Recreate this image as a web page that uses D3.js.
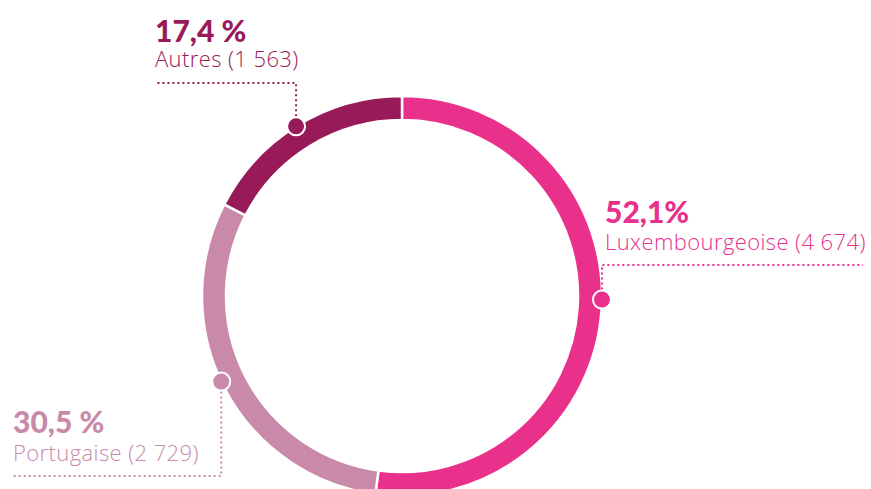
<!DOCTYPE html>
<html>
<head>
<meta charset="utf-8">
<script src="https://cdn.jsdelivr.net/npm/d3@7"></script>
<style>
  body { margin: 0; background: #fff; }
  svg { display: block; font-family: Lato, "Open Sans", sans-serif; }
</style>
</head>
<body>
<div id="chart"></div>
<script>
// data
const categories = ['Luxembourgeoise', 'Portugaise', 'Autres'];
const counts = [4674, 2729, 1563];
const percentLabels = ['52,1%', '30,5 %', '17,4 %'];
const countLabels = ['4 674', '2 729', '1 563'];
const colors = ['#e9308b', '#c98aa9', '#981a58'];

const width = 871, height = 489;
const cx = 402, cy = 296;
const outerR = 200, innerR = 176;

// label layout: dot shift along the ring (deg), elbow height of leader, line end x, text position
const labelLayout = [
  { shift: -2.8, lineY: 265, lineX: 863, tx: 605, pctY: 223, nameY: 250 },
  { shift: 2.2, lineY: 476, lineX: 13, tx: 13, pctY: 433, nameY: 461 },
  { shift: -0.6, lineY: 83, lineX: 155, tx: 155, pctY: 42, nameY: 67 }
];

const data = categories.map((c, i) => ({ category: c, count: counts[i], i }));

const svg = d3.select('#chart').append('svg')
  .attr('width', width)
  .attr('height', height);

const g = svg.append('g')
  .attr('transform', `translate(${cx}, ${cy})`);

// pie in given order, clockwise from top
const pie = d3.pie().sort(null).value(d => d.count);
const arcs = pie(data);

const arc = d3.arc().innerRadius(innerR).outerRadius(outerR);

g.selectAll('path')
  .data(arcs)
  .join('path')
  .attr('d', arc)
  .attr('fill', d => colors[d.data.i])
  .attr('stroke', '#fff')
  .attr('stroke-width', 2.5);

// dot position on outer edge, near the middle of each slice
const dotPos = d => {
  const a = (d.startAngle + d.endAngle) / 2 + labelLayout[d.data.i].shift * Math.PI / 180;
  return [cx + outerR * Math.sin(a), cy - outerR * Math.cos(a)];
};

// leader lines
svg.selectAll('.leader')
  .data(arcs)
  .join('polyline')
  .attr('class', 'leader')
  .attr('points', d => {
    const [x, y] = dotPos(d);
    const L = labelLayout[d.data.i];
    return `${x},${y} ${x},${L.lineY} ${L.lineX},${L.lineY}`;
  })
  .attr('fill', 'none')
  .attr('stroke', d => colors[d.data.i])
  .attr('stroke-width', 2)
  .attr('stroke-dasharray', '2,3');

// dots
svg.selectAll('.dot')
  .data(arcs)
  .join('circle')
  .attr('class', 'dot')
  .attr('cx', d => dotPos(d)[0])
  .attr('cy', d => dotPos(d)[1])
  .attr('r', 9)
  .attr('fill', d => colors[d.data.i])
  .attr('stroke', '#fff')
  .attr('stroke-width', 2);

// percentages
svg.selectAll('.pct')
  .data(data)
  .join('text')
  .attr('class', 'pct')
  .attr('x', d => labelLayout[d.i].tx)
  .attr('y', d => labelLayout[d.i].pctY)
  .attr('fill', d => colors[d.i])
  .attr('font-size', 30)
  .attr('font-weight', 900)
  .text(d => percentLabels[d.i]);

// category names with counts
svg.selectAll('.name')
  .data(data)
  .join('text')
  .attr('class', 'name')
  .attr('x', d => labelLayout[d.i].tx)
  .attr('y', d => labelLayout[d.i].nameY)
  .attr('fill', d => colors[d.i])
  .attr('font-family', '"Open Sans", Lato, sans-serif')
  .attr('font-size', 22)
  .attr('font-weight', 300)
  .attr('letter-spacing', 0.4)
  .text(d => `${d.category} (${countLabels[d.i]})`);
</script>
</body>
</html>
